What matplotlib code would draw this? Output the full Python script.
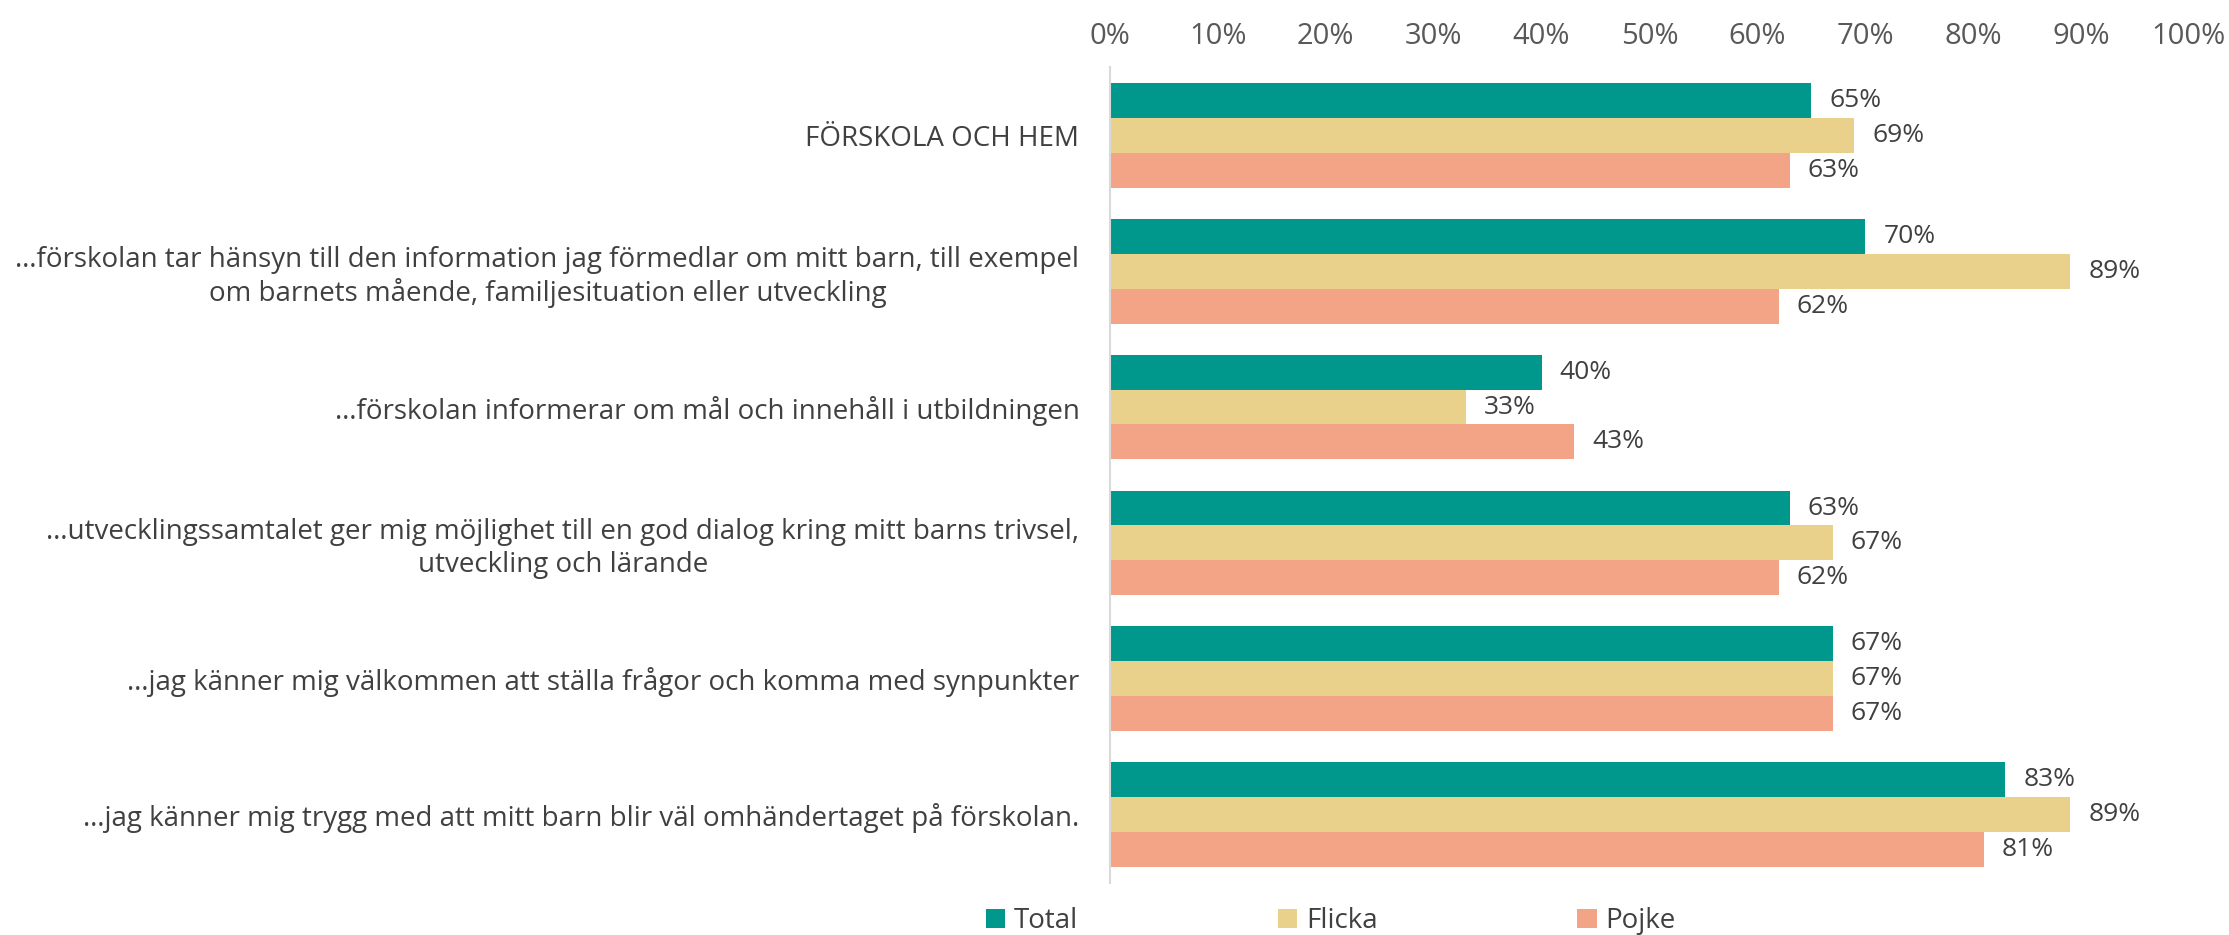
import matplotlib.pyplot as plt
from matplotlib.patches import Patch
import numpy as np

plt.rcParams['font.family'] = ['Open Sans', 'DejaVu Sans']

# --- data ---
categories = [
    "FÖRSKOLA OCH HEM",
    "…förskolan tar hänsyn till den information jag förmedlar om mitt barn, till exempel\nom barnets mående, familjesituation eller utveckling",
    "…förskolan informerar om mål och innehåll i utbildningen",
    "…utvecklingssamtalet ger mig möjlighet till en god dialog kring mitt barns trivsel,\nutveckling och lärande",
    "…jag känner mig välkommen att ställa frågor och komma med synpunkter",
    "…jag känner mig trygg med att mitt barn blir väl omhändertaget på förskolan.",
]
series_names = ["Total", "Flicka", "Pojke"]
total = [65, 70, 40, 63, 67, 83]
flicka = [69, 89, 33, 67, 67, 89]
pojke = [63, 62, 43, 62, 67, 81]
colors = ["#00978D", "#E9D18B", "#F3A486"]

text_col = "#404040"

fig = plt.figure(figsize=(22.29, 9.35), dpi=100)
ax = fig.add_axes([0.498, 0.056, 0.484, 0.872])

y = np.arange(len(categories))
h = 0.257
for i, (vals, c) in enumerate(zip([total, flicka, pojke], colors)):
    pos = y + (i - 1) * h
    ax.barh(pos, vals, height=h, color=c, edgecolor='none')
    for p, v in zip(pos, vals):
        ax.annotate(f"{v}%", (v, p), xytext=(13, 0), textcoords="offset points",
                    ha='left', va='center', fontsize=19, color=text_col)

ax.set_xlim(0, 100)
ax.set_ylim(len(categories) - 0.5, -0.5)
ax.xaxis.tick_top()
ax.set_xticks(range(0, 101, 10))
ax.set_xticklabels([f"{t}%" for t in range(0, 101, 10)])
ax.tick_params(axis='x', length=0, pad=12, labelsize=21, labelcolor="#595959")
ax.set_yticks(y)
ax.set_yticklabels(categories, multialignment='center')
ax.tick_params(axis='y', length=0, pad=22, labelsize=20, labelcolor=text_col)

for s in ['top', 'right', 'bottom']:
    ax.spines[s].set_visible(False)
ax.spines['left'].set_color("#D9D9D9")
ax.spines['left'].set_linewidth(1.5)

handles = [Patch(facecolor=c, edgecolor='none') for c in colors]
fig.legend(handles, series_names, loc='center', bbox_to_anchor=(0.597, 0.015),
           ncol=3, frameon=False, fontsize=20, handlelength=0.7, handleheight=0.7,
           handletextpad=0.3, columnspacing=7.2, labelcolor=text_col)

fig.savefig("out.png", dpi=100)
